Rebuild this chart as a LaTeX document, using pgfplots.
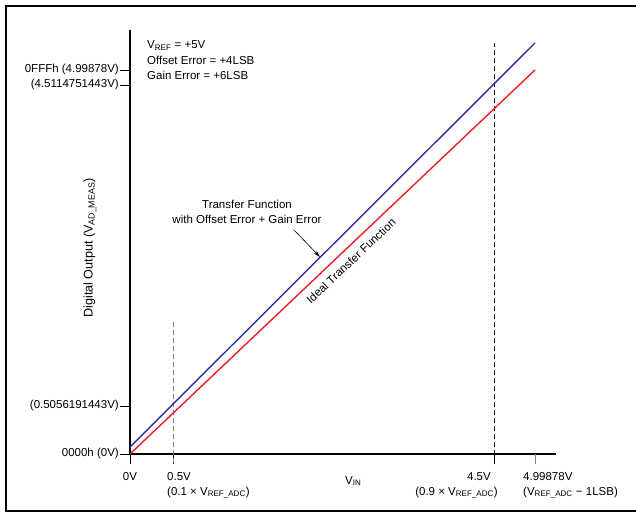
\documentclass[border=0pt]{standalone}
\usepackage{fontspec}
\setmainfont{Liberation Sans}
\usepackage{pgfplots}
\pgfplotsset{compat=1.18}
\usetikzlibrary{arrows.meta}
\definecolor{tfblue}{RGB}{45,45,160}
\definecolor{tfred}{RGB}{235,30,40}
\begin{document}
\begin{tikzpicture}[x=1pt,y=1pt,font=\fontsize{11.5}{13.8}\selectfont]
\useasboundingbox (0,0) rectangle (636,515);
\draw[line width=2.4pt] (6,509) -- (636,509);
\draw[line width=2.4pt] (6,510.2) -- (6,2.8);
\draw[line width=2.4pt] (4.8,4) -- (636,4);
\begin{axis}[at={(130pt,61pt)}, anchor=south west,
  width=426pt, height=424pt, scale only axis,
  xmin=0, xmax=426, ymin=0, ymax=424,
  axis lines=left, axis line style={-, line width=1.1pt, black},
  clip=false, tick align=outside, major tick length=10pt,
  every tick/.style={black, line width=0.9pt},
  xtick={0,43,364}, xticklabels={},
  extra x ticks={405}, extra x tick labels={},
  extra x tick style={every tick/.style={gray, line width=0.9pt}},
  ytick={0,48,369,384},
  yticklabels={0000h (0V),(0.5056191443V),(4.5114751443V),0FFFh (4.99878V)},
  yticklabel style={anchor=east, inner sep=1pt},
]
\addplot[gray, line width=0.9pt, dash pattern=on 5pt off 3pt] coordinates {(43,-9) (43,132)};
\addplot[black, line width=0.9pt, dash pattern=on 5pt off 3pt] coordinates {(364,-9) (364,411)};
\addplot[tfred, line width=1.4pt] coordinates {(0,0) (405,384)};
\addplot[tfblue, line width=1.4pt] coordinates {(0,7) (405,411)};
\end{axis}
\node[anchor=base west, inner sep=0] at (147,466) {V\textsubscript{REF} = +5V};
\node[anchor=base west, inner sep=0] at (147,450.5) {Offset Error = +4LSB};
\node[anchor=base west, inner sep=0] at (147,435) {Gain Error = +6LSB};
\node[anchor=base, inner sep=0] at (130,35) {0V};
\node[anchor=base west, inner sep=0] at (167,35) {0.5V};
\node[anchor=base west, inner sep=0] at (167,20) {(0.1 × V\textsubscript{REF\_ADC})};
\node[anchor=base east, inner sep=0] at (491,35) {4.5V};
\node[anchor=base east, inner sep=0] at (498,20) {(0.9 × V\textsubscript{REF\_ADC})};
\node[anchor=base west, inner sep=0] at (523,35) {4.99878V};
\node[anchor=base west, inner sep=0] at (523,20) {(V\textsubscript{REF\_ADC} − 1LSB)};
\node[anchor=base west, inner sep=0] at (345,31) {V\textsubscript{IN}};
\node[rotate=90, font=\fontsize{12.6}{15}\selectfont] at (90,267) {Digital Output (V\textsubscript{AD\_MEAS})};
\node[anchor=base, inner sep=0] at (247,307) {Transfer Function};
\node[anchor=base, inner sep=0] at (247,292) {with Offset Error + Gain Error};
\draw[-{Stealth[length=7pt,width=4pt]}, line width=0.6pt] (294,285) -- (320,258);
\node[rotate=43.5] at (351,254) {Ideal Transfer Function};
\end{tikzpicture}
\end{document}
